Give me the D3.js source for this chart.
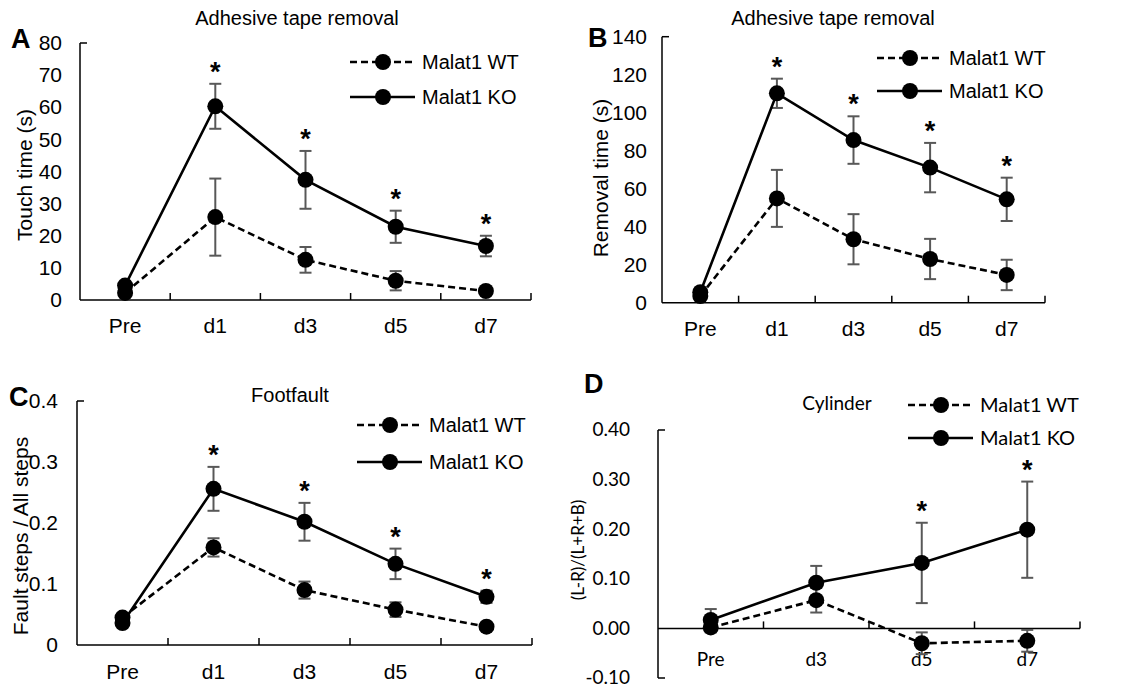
<!DOCTYPE html>
<html lang="en">
<head>
<meta charset="UTF-8">
<title>Malat1 behaviour tests</title>
<script src="https://d3js.org/d3.v7.min.js"></script>
<style>
  body { margin: 0; background: #fff; }
  svg { display: block; }
</style>
</head>
<body>
<div id="chart"></div>
<script>
// ---- data ----
var daysABC = ["Pre", "d1", "d3", "d5", "d7"];
var daysD = ["Pre", "d3", "d5", "d7"];
var seriesNames = ["Malat1 WT", "Malat1 KO"];

// A: touch time (s)
var touchWT = [2.2, 25.8, 12.5, 6.0, 2.8];
var touchWTErr = [0.8, 12, 4, 3, 0.6];
var touchKO = [4.5, 60.3, 37.4, 22.8, 16.8];
var touchKOErr = [0.8, 7, 9, 5, 3.2];
var touchStars = [false, true, true, true, true];
var touchTicks = [0, 10, 20, 30, 40, 50, 60, 70, 80];
var touchTickLabels = ["0", "10", "20", "30", "40", "50", "60", "70", "80"];

// B: removal time (s)
var removalWT = [3.5, 54.9, 33.4, 23.0, 14.6];
var removalWTErr = [1, 15, 13.2, 10.6, 8];
var removalKO = [5.5, 110.2, 85.6, 71.1, 54.4];
var removalKOErr = [1, 7.7, 12.5, 13, 11.4];
var removalStars = [false, true, true, true, true];
var removalTicks = [0, 20, 40, 60, 80, 100, 120, 140];
var removalTickLabels = ["0", "20", "40", "60", "80", "100", "120", "140"];

// C: footfault ratio
var faultWT = [0.045, 0.160, 0.090, 0.058, 0.030];
var faultWTErr = [0.005, 0.015, 0.014, 0.012, 0.003];
var faultKO = [0.036, 0.256, 0.202, 0.133, 0.079];
var faultKOErr = [0.005, 0.036, 0.031, 0.025, 0.01];
var faultStars = [false, true, true, true, true];
var faultTicks = [0, 0.1, 0.2, 0.3, 0.4];
var faultTickLabels = ["0", "0.1", "0.2", "0.3", "0.4"];

// D: cylinder asymmetry
var cylWT = [0.002, 0.057, -0.030, -0.025];
var cylWTErr = [0.010, 0.025, 0.022, 0.022];
var cylKO = [0.017, 0.092, 0.132, 0.199];
var cylKOErr = [0.022, 0.034, 0.081, 0.097];
var cylStars = [false, false, true, true];
var cylTicks = [-0.1, 0, 0.1, 0.2, 0.3, 0.4];
var cylTickLabels = ["-0.10", "0.00", "0.10", "0.20", "0.30", "0.40"];

var W = 1129, H = 688;
var svg = d3.select("#chart").append("svg")
    .attr("width", W).attr("height", H);

var ARIAL = "'Liberation Sans', Arial, sans-serif";
var CALIBRI = "Lato, 'Open Sans', sans-serif";
var ERR_COLOR = "#585858";

function drawPanel(p) {
    var g = svg.append("g");
    var x = d3.scaleBand().domain(p.cats).range(p.xr).padding(0);
    var y = d3.scaleLinear().domain(p.ydom).range(p.yr);
    var cx = function(c) { return x(c) + x.bandwidth() / 2; };
    var axisY = p.xAxisAt0 ? y(0) : p.yr[0];

    // y axis line + end caps (inward)
    g.append("line").attr("x1", p.xr[0]).attr("x2", p.xr[0])
        .attr("y1", p.yr[0]).attr("y2", p.yr[1])
        .attr("stroke", "#000").attr("stroke-width", 1.5);
    var caps = p.xAxisAt0 ? [p.yr[0], p.yr[1]] : [p.yr[1]];
    caps.forEach(function(cy) {
        g.append("line").attr("x1", p.xr[0]).attr("x2", p.xr[0] + 7)
            .attr("y1", cy).attr("y2", cy)
            .attr("stroke", "#000").attr("stroke-width", 1.5);
    });

    // y tick labels
    g.selectAll(".yl").data(p.yticks).enter().append("text")
        .attr("x", p.xr[0] - p.labGap)
        .attr("y", function(d) { return y(d); })
        .attr("dy", "0.34em")
        .attr("text-anchor", "end")
        .style("font-family", p.font).style("font-size", p.tickSize + "px")
        .text(function(d, i) { return p.ytickLabels[i]; });

    // x axis
    g.append("line").attr("x1", p.xr[0]).attr("x2", p.xr[1])
        .attr("y1", axisY).attr("y2", axisY)
        .attr("stroke", "#000").attr("stroke-width", 1.5);
    g.selectAll(".xt").data(p.cats.slice(1).concat(["_end"])).enter().append("line")
        .attr("x1", function(d) { return d === "_end" ? p.xr[1] : x(d); })
        .attr("x2", function(d) { return d === "_end" ? p.xr[1] : x(d); })
        .attr("y1", axisY).attr("y2", axisY - 7)
        .attr("stroke", "#000").attr("stroke-width", 1.5);
    g.selectAll(".xl").data(p.cats).enter().append("text")
        .attr("x", cx)
        .attr("y", axisY + p.xLabOff)
        .attr("text-anchor", "middle")
        .style("font-family", p.font).style("font-size", p.tickSize + "px")
        .text(function(d) { return d; });

    // y axis title
    g.append("text")
        .attr("transform", "translate(" + p.ylabX + "," + p.ylabY + ") rotate(-90)")
        .attr("text-anchor", "middle").attr("dy", "0.36em")
        .style("font-family", p.font).style("font-size", p.ylabSize + "px")
        .text(p.ylab);

    // panel title + letter
    g.append("text").attr("x", p.titleX).attr("y", p.titleY)
        .attr("text-anchor", "middle")
        .style("font-family", p.font).style("font-size", p.titleSize + "px")
        .text(p.title);
    g.append("text").attr("x", p.letterX).attr("y", p.letterY)
        .style("font-family", ARIAL).style("font-weight", "bold")
        .style("font-size", "27px").text(p.letter);

    var series = [
        { vals: p.wt, err: p.wtErr, dash: "7,4" },
        { vals: p.ko, err: p.koErr, dash: null }
    ];

    // error bars
    series.forEach(function(s) {
        s.vals.forEach(function(v, i) {
            var xc = cx(p.cats[i]);
            var y1 = y(v + s.err[i]), y2 = y(v - s.err[i]);
            g.append("line").attr("x1", xc).attr("x2", xc).attr("y1", y1).attr("y2", y2)
                .attr("stroke", ERR_COLOR).attr("stroke-width", 2);
            [y1, y2].forEach(function(yy) {
                g.append("line").attr("x1", xc - 6).attr("x2", xc + 6).attr("y1", yy).attr("y2", yy)
                    .attr("stroke", ERR_COLOR).attr("stroke-width", 2);
            });
        });
    });

    // lines + markers
    var line = d3.line()
        .x(function(d, i) { return cx(p.cats[i]); })
        .y(function(d) { return y(d); });
    series.forEach(function(s) {
        g.append("path").datum(s.vals).attr("d", line)
            .attr("fill", "none").attr("stroke", "#000").attr("stroke-width", 2.6)
            .attr("stroke-dasharray", s.dash);
    });
    series.forEach(function(s) {
        g.selectAll(null).data(s.vals).enter().append("circle")
            .attr("cx", function(d, i) { return cx(p.cats[i]); })
            .attr("cy", function(d) { return y(d); })
            .attr("r", 8).attr("fill", "#000");
    });

    // significance stars
    p.stars.forEach(function(st, i) {
        if (!st) return;
        g.append("text").attr("x", cx(p.cats[i]))
            .attr("y", y(p.ko[i] + p.koErr[i]) - 3)
            .attr("text-anchor", "middle")
            .style("font-family", ARIAL).style("font-weight", "bold").style("font-size", "27px")
            .text("*");
    });

    // legend
    var lg = [
        { name: seriesNames[0], dash: "7,4", y: p.legY[0] },
        { name: seriesNames[1], dash: null, y: p.legY[1] }
    ];
    lg.forEach(function(l) {
        g.append("line").attr("x1", p.legX).attr("x2", p.legX + 65)
            .attr("y1", l.y).attr("y2", l.y)
            .attr("stroke", "#000").attr("stroke-width", 2.6)
            .attr("stroke-dasharray", l.dash);
        g.append("circle").attr("cx", p.legX + 33).attr("cy", l.y).attr("r", 8).attr("fill", "#000");
        g.append("text").attr("x", p.legX + 72).attr("y", l.y).attr("dy", "0.36em")
            .style("font-family", p.font).style("font-size", "20px").text(l.name);
    });
}

drawPanel({
    cats: daysABC, wt: touchWT, wtErr: touchWTErr, ko: touchKO, koErr: touchKOErr, stars: touchStars,
    ydom: [0, 80], yticks: touchTicks, ytickLabels: touchTickLabels,
    xr: [80, 531], yr: [300, 43], labGap: 18, xLabOff: 33, tickSize: 21, font: ARIAL,
    ylab: "Touch time (s)", ylabX: 24, ylabY: 175, ylabSize: 21,
    title: "Adhesive tape removal", titleX: 297, titleY: 25, titleSize: 20,
    letter: "A", letterX: 11, letterY: 48,
    legX: 350, legY: [62, 97]
});

drawPanel({
    cats: daysABC, wt: removalWT, wtErr: removalWTErr, ko: removalKO, koErr: removalKOErr, stars: removalStars,
    ydom: [0, 140], yticks: removalTicks, ytickLabels: removalTickLabels,
    xr: [662, 1045], yr: [302.7, 36.7], labGap: 15, xLabOff: 33, tickSize: 21, font: ARIAL,
    ylab: "Removal time (s)", ylabX: 600, ylabY: 178, ylabSize: 21,
    title: "Adhesive tape removal", titleX: 833, titleY: 25, titleSize: 20,
    letter: "B", letterX: 588, letterY: 47,
    legX: 877, legY: [58, 91]
});

drawPanel({
    cats: daysABC, wt: faultWT, wtErr: faultWTErr, ko: faultKO, koErr: faultKOErr, stars: faultStars,
    ydom: [0, 0.4], yticks: faultTicks, ytickLabels: faultTickLabels,
    xr: [77, 532], yr: [645, 401], labGap: 19, xLabOff: 34, tickSize: 21, font: ARIAL,
    ylab: "Fault steps / All steps", ylabX: 20, ylabY: 536, ylabSize: 21,
    title: "Footfault", titleX: 290, titleY: 402, titleSize: 20,
    letter: "C", letterX: 9, letterY: 406,
    legX: 357, legY: [425, 462]
});

drawPanel({
    cats: daysD, wt: cylWT, wtErr: cylWTErr, ko: cylKO, koErr: cylKOErr, stars: cylStars,
    ydom: [-0.1, 0.4], yticks: cylTicks, ytickLabels: cylTickLabels, xAxisAt0: true,
    xr: [658, 1080], yr: [678, 430], labGap: 28, xLabOff: 38, tickSize: 19, font: CALIBRI,
    ylab: "(L-R)/(L+R+B)", ylabX: 578, ylabY: 550, ylabSize: 17,
    title: "Cylinder", titleX: 837, titleY: 410, titleSize: 19,
    letter: "D", letterX: 584, letterY: 393,
    legX: 908, legY: [405, 438]
});
</script>
</body>
</html>
